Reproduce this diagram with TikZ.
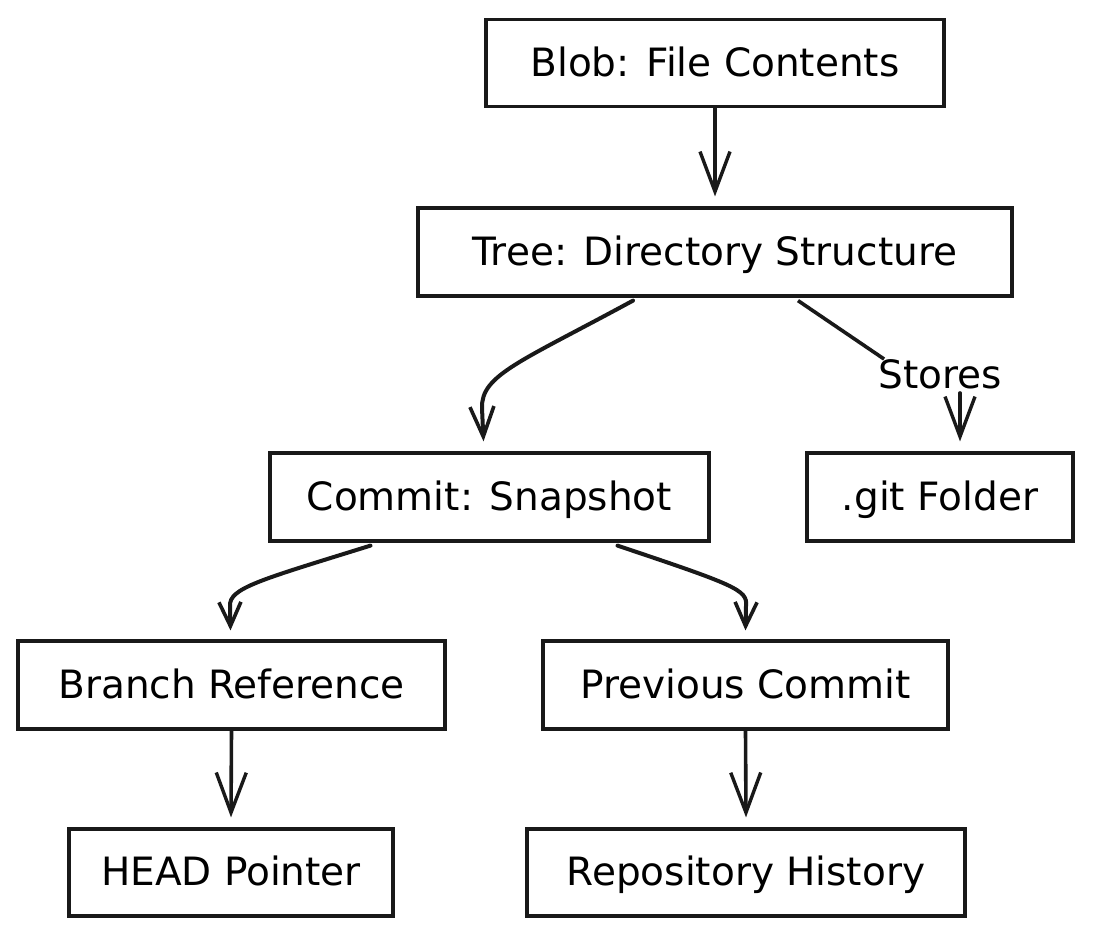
\documentclass[tikz,border=0pt]{standalone}
\usepackage{fontspec}
\setmainfont{DejaVu Sans}
\usetikzlibrary{arrows.meta,calc}
\begin{document}
\begin{tikzpicture}[x=1pt,y=-1pt,
  box/.style={draw=black!90,line width=3.2pt,fill=white,inner sep=0pt,text height=34pt,text depth=8pt,font=\fontsize{39}{46}\selectfont},
  conn/.style={draw=black!90,line width=3.6pt,line cap=round,line join=round,-{Straight Barb[length=40pt,width=30pt,line width=3.4pt]}},
  curvy/.style={draw=black!90,line width=4pt,line cap=round,line join=round,-{Straight Barb[length=24pt,width=22pt,line width=3.6pt]}},
  plain/.style={draw=black!90,line width=3.6pt},
  lbl/.style={font=\fontsize{39}{46}\selectfont,inner sep=2pt}]
\useasboundingbox (0,0) rectangle (1093,938);
\node[box,minimum width=458pt,minimum height=87pt] (blob) at (715,63) {Blob: File Contents};
\node[box,minimum width=594pt,minimum height=88pt] (tree) at (715,252) {Tree: Directory Structure};
\node[box,minimum width=439pt,minimum height=88pt] (commit) at (489.5,497) {Commit: Snapshot};
\node[box,minimum width=266pt,minimum height=88pt] (git) at (940,497) {.git Folder};
\node[box,minimum width=427pt,minimum height=88pt] (branch) at (231.5,685) {Branch Reference};
\node[box,minimum width=405pt,minimum height=88pt] (prev) at (745.5,685) {Previous Commit};
\node[box,minimum width=324pt,minimum height=87pt] (head) at (231,872.5) {HEAD Pointer};
\node[box,minimum width=438pt,minimum height=87pt] (hist) at (746,872.5) {Repository History};
\node[lbl] (stores) at (940,374) {Stores};
\draw[conn] (blob.south) -- ($(tree.north)+(0,-10)$);
\draw[curvy,-{Straight Barb[length=30pt,width=24pt,line width=3.6pt]}] ($(tree.south)+(-82,3)$) .. controls (520,362) and (481,375) .. (482,408) -- ($(commit.north)+(-6,-10)$);
\draw[plain] ($(tree.south)+(83,3)$) -- ($(stores.north west)+(8,2)$);
\draw[conn] ($(stores.south)+(20,2)$) -- ($(git.north)+(20,-10)$);
\draw[curvy] ($(commit.south)+(-119,3)$) .. controls (260,580) and (229,588) .. (230,606) -- ($(branch.north)+(-1,-9)$);
\draw[curvy] ($(commit.south)+(128,3)$) .. controls (735,585) and (748,590) .. (746,606) -- ($(prev.north)+(0,-9)$);
\draw[conn] (branch.south) -- ($(head.north)+(0,-10)$);
\draw[conn] (prev.south) -- ($(hist.north)+(0,-10)$);
\end{tikzpicture}
\end{document}
